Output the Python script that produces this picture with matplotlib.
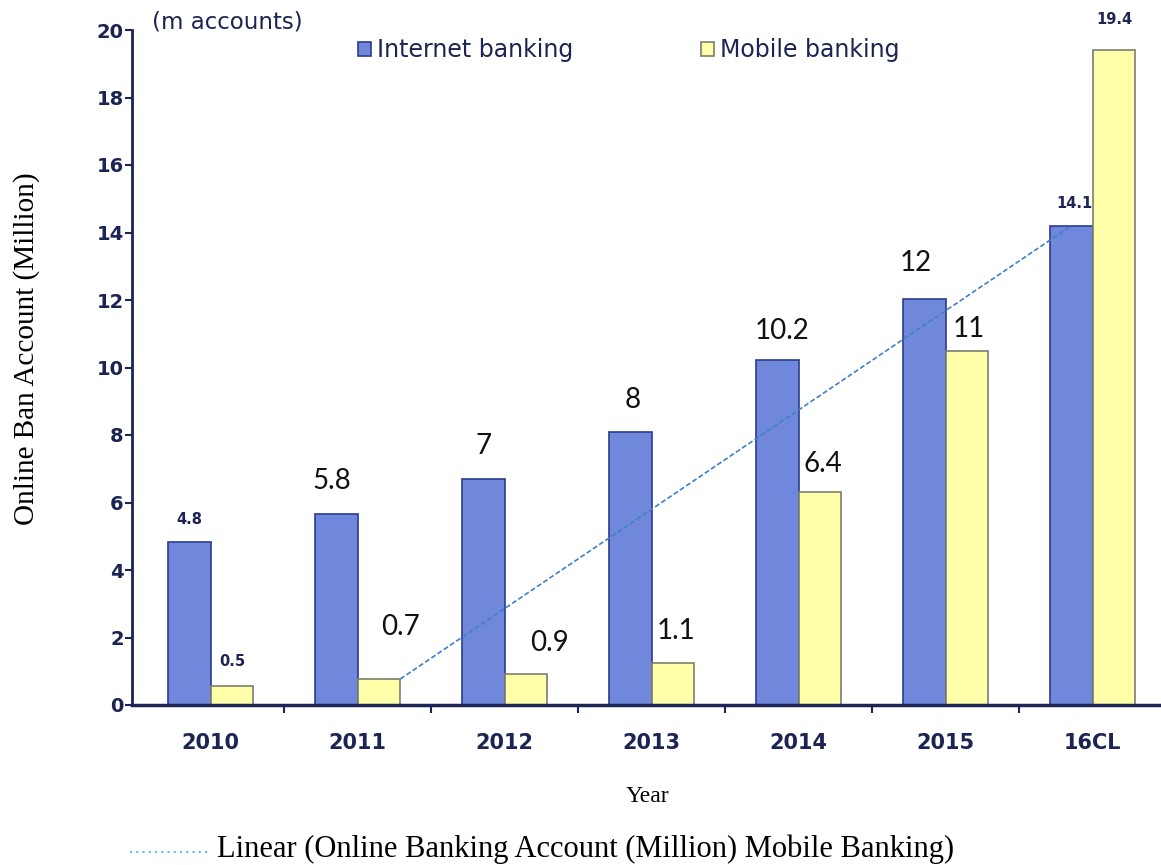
import numpy as np
import matplotlib.pyplot as plt
from matplotlib.lines import Line2D

# Data (bar heights as drawn, labels as printed)
years = ['2010', '2011', '2012', '2013', '2014', '2015', '16CL']
internet = [4.83, 5.66, 6.7, 8.08, 10.22, 12.02, 14.2]
mobile = [0.56, 0.77, 0.92, 1.24, 6.32, 10.5, 19.4]
internet_labels = ['4.8', '5.8', '7', '8', '10.2', '12', '14.1']
mobile_labels = ['0.5', '0.7', '0.9', '1.1', '6.4', '11', '19.4']

# label offsets in pixels (dx, dy) from bar top centre, and whether small style
internet_off = [(0, 22), (-5, 33), (0, 33), (2, 32), (5, 29), (-9, 36), (3, 22)]
mobile_off = [(0, 25), (22, 52), (24, 31), (3, 32), (3, 28), (2, 22), (0, 31)]
internet_small = [True, False, False, False, False, False, True]
mobile_small = [True, False, False, False, False, False, True]

W, H = 1161, 865
navy = '#1b2452'
blue_fill = '#6f88dc'
blue_edge = '#2c3a8c'
yellow_fill = '#ffffaa'
yellow_edge = '#7d7d70'

fig = plt.figure(figsize=(W / 100, H / 100), dpi=100)
ax = fig.add_axes([132 / W, 1 - 705 / H, 1 - 132 / W, (705 - 30) / H])

x = np.arange(len(years))
w = 0.29
ax.bar(x - w / 2, internet, w, color=blue_fill, edgecolor=blue_edge, linewidth=1.2,
       label='Internet banking', zorder=2)
ax.bar(x + w / 2, mobile, w, color=yellow_fill, edgecolor=yellow_edge, linewidth=1.2,
       label='Mobile banking', zorder=2)

# linear trend line
ax.plot([1 + w, 6 - w / 2], [mobile[1], internet[6]], color='#3f7fc8',
        linestyle=(0, (3, 1.5)), linewidth=1.2, zorder=3)


def put_labels(xs, vals, labels, offs, small):
    for xi, v, lab, (dx, dy), sm in zip(xs, vals, labels, offs, small):
        if sm:
            kw = dict(fontsize=10.5, fontweight='bold', color=navy, family='DejaVu Sans')
        else:
            kw = dict(fontsize=20, color='#111111', family='Lato')
        ax.annotate(lab, (xi, v), xytext=(dx * 0.72, dy * 0.72),
                    textcoords='offset points', ha='center', va='center', **kw)


put_labels(x - w / 2, internet, internet_labels, internet_off, internet_small)
put_labels(x + w / 2, mobile, mobile_labels, mobile_off, mobile_small)

ax.set_xlim(-0.535, 6.465)
ax.set_ylim(0, 20)
ax.set_yticks(range(0, 21, 2))
ax.set_xticks(np.arange(0.5, 6, 1))
ax.set_xticklabels([])
ax.set_xticks(x, minor=True)
ax.set_xticklabels(years, minor=True)
ax.tick_params(axis='x', which='minor', length=0, pad=20, labelsize=15, labelcolor=navy)
ax.tick_params(axis='x', which='major', length=6, width=1.5, color=navy, direction='out')
ax.tick_params(axis='y', length=5, width=1.5, color=navy, pad=1, labelsize=14, labelcolor=navy)
for lab in ax.get_xticklabels(minor=True) + ax.get_yticklabels():
    lab.set_fontweight('bold')

for s in ['top', 'right']:
    ax.spines[s].set_visible(False)
ax.spines['left'].set_color(navy)
ax.spines['left'].set_linewidth(2)
ax.spines['bottom'].set_color(navy)
ax.spines['bottom'].set_linewidth(2.5)

leg = ax.legend(loc='center left', bbox_to_anchor=(358 / W, 1 - 50 / H),
                bbox_transform=fig.transFigure, ncol=2, frameon=False,
                fontsize=17, handlelength=0.55, handleheight=0.55, handletextpad=0.25,
                columnspacing=5.4, borderpad=0, borderaxespad=0)
for t in leg.get_texts():
    t.set_color(navy)

fig.text(152 / W, 1 - 22 / H, '(m accounts)', fontsize=16.5, color=navy, va='center')
fig.text(27 / W, 1 - 349 / H, 'Online Ban Account (Million)', rotation=90,
         family='Liberation Serif', fontsize=21, ha='center', va='center')
fig.text(647 / W, 1 - 797 / H, 'Year', family='Liberation Serif', fontsize=17,
         ha='center', va='center')
fig.add_artist(Line2D([130 / W, 210 / W], [1 - 852 / H, 1 - 852 / H], color='#5bc0eb',
                      linestyle=(0, (1, 2)), linewidth=1.5, transform=fig.transFigure))
fig.text(217 / W, 1 - 849 / H, 'Linear (Online Banking Account (Million) Mobile Banking)',
         family='Liberation Serif', fontsize=22, va='center')

fig.savefig('out.png', dpi=100)
